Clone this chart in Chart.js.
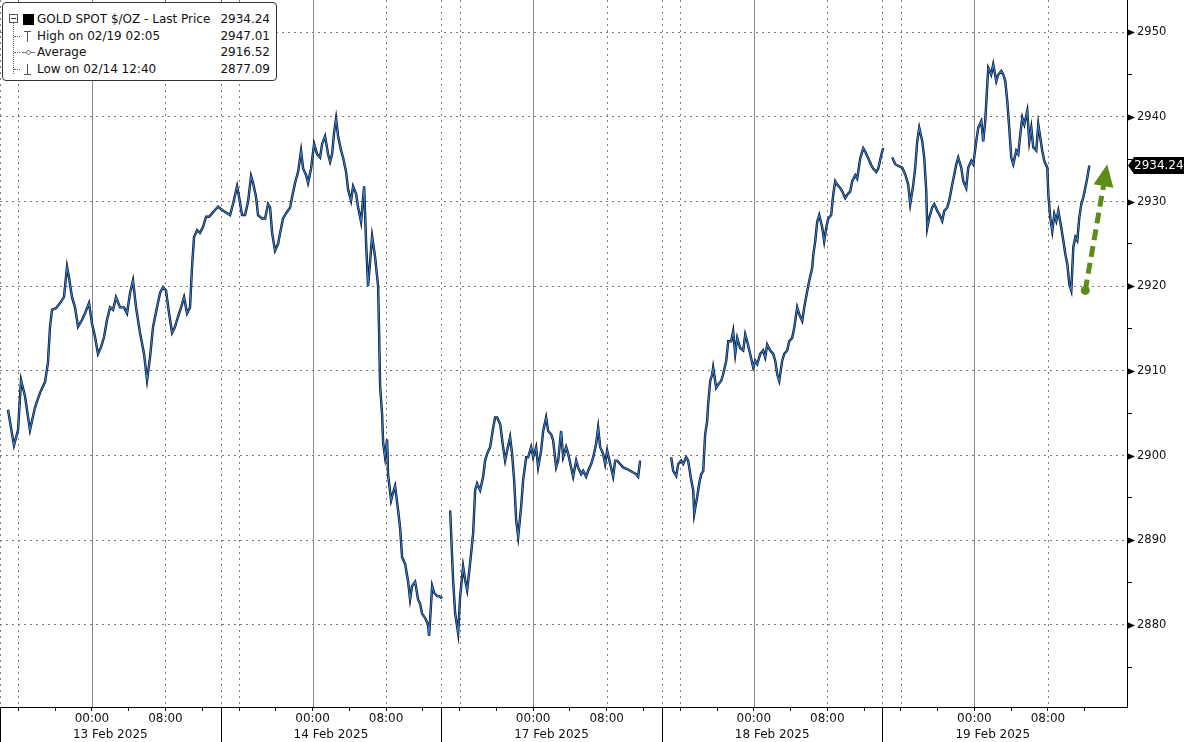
<!DOCTYPE html>
<html>
<head>
<meta charset="utf-8">
<script src="https://cdn.jsdelivr.net/npm/chart.js@4.4.1/dist/chart.umd.min.js"></script>
<style>
  html, body { margin: 0; padding: 0; background: #fff; }
  #wrap { position: relative; width: 1184px; height: 742px; }
  #legend {
    position: absolute; left: 2px; top: 2px; width: 273px; height: 77px;
    border: 1px solid #333; border-radius: 4px; background: #fff;
    font-family: 'DejaVu Sans'; font-size: 12px; color: #111;
  }
  #legend .row { position: absolute; left: 0; right: 0; height: 16px; line-height: 16px; }
  #legend .lbl { position: absolute; left: 34px; }
  #legend .val { position: absolute; right: 6px; }
  #legend .tree { position: absolute; left: 10px; top: 19px; height: 52px; border-left: 1px dotted #666; }
  #legend .minus { position: absolute; left: 6px; top: 11px; width: 7px; height: 7px; border: 1px solid #555; background: #fff; }
  #legend .minus::after { content: ''; position: absolute; left: 1px; right: 1px; top: 3px; height: 1px; background: #333; }
  #legend .hook { position: absolute; left: 11px; width: 6px; border-top: 1px dotted #666; top: 8px; }
  #legend .ico { position: absolute; }
</style>
</head>
<body>
<div id="wrap">
  <canvas id="c" width="1184" height="742"></canvas>
  <div id="legend"></div>
</div>
<script>
// gold spot, intraday, x = hours on the compressed session axis (each day block = 24h, starts 14:00 prior day)
const dayLabels = ['13 Feb 2025', '14 Feb 2025', '17 Feb 2025', '18 Feb 2025', '19 Feb 2025'];

const hours = [
  // 13 Feb block
  0.87, 1.52, 1.96, 2.29, 2.72, 3.26, 3.81, 4.35, 4.90, 5.22, 5.44, 5.66, 6.09, 6.53, 6.96, 7.29, 7.51, 7.83,
  8.16, 8.49, 8.92, 9.25, 9.68, 10.01, 10.34, 10.66, 10.99, 11.32, 11.64, 11.97, 12.30, 12.62, 13.06, 13.49,
  13.82, 14.15, 14.47, 14.80, 15.23, 15.67, 16.00, 16.32, 16.65, 17.08, 17.41, 17.74, 18.06, 18.39, 18.72,
  19.04, 19.37, 19.70, 20.02, 20.35, 20.67, 20.89, 21.11, 21.44, 21.76, 22.09, 22.42, 22.74, 23.07, 23.39, 23.72,
  // 14 Feb block
  24.16, 25.03, 25.35, 25.79, 26.01, 26.33, 26.66, 26.99, 27.31, 27.53, 27.86, 28.07, 28.51, 28.84, 29.16,
  29.38, 29.60, 29.92, 30.25, 30.47, 30.79, 31.23, 31.56, 31.77, 32.10, 32.43, 32.75, 32.97, 33.30, 33.51,
  33.84, 34.17, 34.49, 34.82, 35.04, 35.36, 35.69, 35.91, 36.13, 36.34, 36.56, 36.78, 37.11, 37.32, 37.65,
  37.87, 38.19, 38.41, 38.74, 38.96, 39.28, 39.61, 39.83, 40.04, 40.26, 40.48, 40.81, 41.13, 41.24, 41.35,
  41.57, 41.68, 41.89, 42.11, 42.22, 42.55, 42.76, 42.98, 43.31, 43.53, 43.74, 44.07, 44.40, 44.61, 44.83,
  45.16, 45.48, 45.70, 45.92, 46.25, 46.57, 46.68, 47.01, 47.23, 47.55, 47.77, 47.99,
  // 17 Feb block
  48.10, 48.5, 48.97, 49.29, 49.51, 49.84, 50.05, 50.38, 50.60, 50.82, 51.14, 51.47, 51.69, 51.90, 52.23,
  52.56, 52.77, 52.99, 53.32, 53.65, 53.86, 54.08, 54.41, 54.73, 54.95, 55.17, 55.49, 55.71, 55.93, 56.15,
  56.37, 56.69, 56.91, 57.24, 57.45, 57.78, 58.00, 58.32, 58.54, 58.87, 59.09, 59.41, 59.63, 59.96, 60.17,
  60.50, 60.72, 61.04, 61.26, 61.59, 61.81, 62.13, 62.35, 62.68, 62.89, 63.22, 63.44, 63.76, 63.98, 64.31,
  64.53, 64.85, 65.07, 65.29, 65.61, 65.83, 66.05, 66.38, 66.70, 66.92, 67.14, 67.46, 67.79, 68.23, 68.55,
  68.88, 69.21, 69.42, 69.64, 71.0,
  // 18 Feb block
  73.01, 73.23, 73.56, 73.78, 74.10, 74.32, 74.65, 74.86, 75.19, 75.41, 75.52, 75.84, 76.06, 76.28, 76.50,
  76.71, 76.93, 77.04, 77.26, 77.48, 77.58, 77.91, 78.13, 78.45, 78.67, 79.00, 79.22, 79.54, 79.76, 79.98,
  80.20, 80.52, 80.85, 81.07, 81.28, 81.61, 81.94, 82.15, 82.37, 82.70, 83.02, 83.24, 83.46, 83.79, 84.11,
  84.33, 84.55, 84.77, 85.09, 85.31, 85.64, 85.85, 86.18, 86.40, 86.72, 86.94, 87.27, 87.49, 87.81, 88.03,
  88.36, 88.47, 88.68, 88.90, 89.12, 89.45, 89.66, 89.88, 90.10, 90.42, 90.64, 90.86, 91.08, 91.40, 91.62,
  91.95, 92.17, 92.49, 92.71, 93.04, 93.25, 93.58, 93.91, 94.12, 94.45, 94.78, 94.99, 95.32, 95.54, 95.87,
  96.08, 96.5,
  // 19 Feb block
  97.06, 97.39, 97.72, 98.15, 98.48, 98.80, 99.02, 99.35, 99.56, 99.78, 100.00, 100.33, 100.54, 100.76,
  100.87, 101.09, 101.41, 101.63, 101.96, 102.18, 102.50, 102.72, 103.05, 103.26, 103.59, 103.81, 104.03,
  104.24, 104.57, 104.79, 105.11, 105.33, 105.66, 105.88, 106.20, 106.42, 106.75, 106.96, 107.18, 107.40,
  107.51, 107.83, 108.05, 108.38, 108.60, 108.92, 109.14, 109.36, 109.58, 109.79, 110.01, 110.23, 110.55,
  110.77, 110.99, 111.21, 111.43, 111.75, 111.97, 112.19, 112.40, 112.73, 112.95, 113.17, 113.38, 113.60,
  113.93, 114.04, 114.25, 114.47, 114.69, 114.91, 115.13, 115.45, 115.67, 115.89, 116.11, 116.32, 116.54,
  116.76, 116.98, 117.19, 117.41, 117.63, 117.85, 118.06, 118.28, 118.50
];

const prices = [
  // 13 Feb block
  2905.4, 2901.2, 2903, 2908.9, 2907, 2903, 2905.7, 2907.4, 2908.7, 2911, 2915.2, 2917.2, 2917.4, 2918, 2918.7, 2922.3, 2921, 2918.7,
  2917.5, 2915.2, 2916, 2916.8, 2918, 2915.6, 2914, 2912, 2912.8, 2914, 2916, 2917.5, 2917.2, 2918.7, 2917.5, 2917.5,
  2916.8, 2919.2, 2920.7, 2917.5, 2914.5, 2912, 2908.9, 2911.6, 2915.2, 2917.5, 2919.2, 2919.9, 2919.5, 2916.8, 2914.5,
  2915.2, 2916.4, 2917.5, 2918.7, 2916.8, 2917.5, 2922.3, 2925.8, 2926.6, 2926.3, 2927, 2928.2, 2928.2, 2928.6, 2929, 2929.4,
  // 14 Feb block
  2929, 2928.4, 2929.7, 2931.8, 2930.5, 2928.4, 2928.4, 2930, 2933, 2932.2, 2930.5, 2928.4, 2928, 2928, 2929.7,
  2929.3, 2926.3, 2924.2, 2925, 2926.3, 2928, 2928.8, 2929.3, 2930.5, 2932.2, 2933.5, 2936, 2933.9, 2933.1, 2932.2,
  2933.9, 2936.8, 2935.6, 2935.2, 2936.8, 2937.7, 2935.6, 2934.7, 2935.6, 2938.1, 2939.8, 2937.7, 2936, 2935.2, 2933.5,
  2931.4, 2930.1, 2931.8, 2930.9, 2929.3, 2927.6, 2931.8, 2925, 2920, 2922.9, 2925.9, 2923.4, 2920, 2914.5, 2908.2,
  2904.8, 2901.5, 2899.8, 2901.9, 2897.7, 2894.7, 2895.6, 2896.4, 2893.5, 2891.4, 2888, 2887.2, 2885.1, 2883, 2884.6,
  2885.1, 2883, 2882.5, 2881.3, 2880.8, 2880, 2878.7, 2884.6, 2883.8, 2883.4, 2883.4, 2883.2,
  // 17 Feb block
  2883.3, null, 2893.5, 2885.3, 2881.4, 2879, 2883.3, 2886.9, 2885.3, 2884.1, 2887.3, 2890.8, 2895.9, 2896.7, 2895.9,
  2897.5, 2899.4, 2900.2, 2901, 2903.3, 2904.5, 2904.5, 2903.7, 2901, 2899.4, 2900.6, 2902.2, 2900.2, 2897.1, 2892.4,
  2890.4, 2893.9, 2897.1, 2899.8, 2899.8, 2901, 2899.8, 2901, 2898.6, 2900.6, 2902.9, 2904.5, 2902.9, 2902.5, 2901.8,
  2898.6, 2899.4, 2902.9, 2899.8, 2901, 2900.2, 2898.6, 2897.5, 2899.4, 2898.6, 2897.8, 2898.2, 2897.5, 2898.2, 2899,
  2899.8, 2901.4, 2903.3, 2901, 2900.2, 2899, 2900.6, 2899, 2897.5, 2899.4, 2899.4, 2899, 2898.6, 2898.4, 2898.2,
  2898, 2897.8, 2897.5, 2899.4, null,
  // 18 Feb block
  2899.8, 2898.2, 2897.6, 2899, 2899.4, 2899, 2899.8, 2899.4, 2897.1, 2895.9, 2893.1, 2895.1, 2896.7, 2897.8, 2898.2,
  2902.5, 2904.1, 2906.1, 2908.8, 2909.6, 2910.4, 2908, 2908.4, 2908.8, 2909.6, 2911.2, 2913.5, 2913.5, 2914.7, 2912,
  2913.9, 2912.7, 2912.4, 2914.3, 2913.5, 2912, 2910.4, 2911.2, 2910.8, 2912, 2912.4, 2911.6, 2913.1, 2912.4, 2912,
  2911.2, 2909.6, 2908.8, 2911.2, 2912, 2912.4, 2913.5, 2913.9, 2915.1, 2917.5, 2916.7, 2915.9, 2917.5, 2919.4, 2920.6,
  2922.2, 2923.7, 2925.3, 2927.6, 2928.4, 2926.9, 2925.3, 2926.9, 2928, 2928.4, 2930.8, 2932.4, 2932, 2931.6, 2931.2,
  2930.4, 2930.8, 2931.2, 2932.4, 2933.1, 2932.7, 2935.1, 2936.3, 2935.9, 2935.1, 2934.3, 2933.9, 2933.5, 2933.9, 2935.5,
  2936.3, null,
  // 19 Feb block
  2935.2, 2934.4, 2934.2, 2934, 2933.2, 2932, 2929.7, 2932, 2934, 2937.1, 2938.7, 2937.1, 2935.2, 2931.3,
  2926.9, 2928.1, 2929.3, 2929.7, 2928.9, 2928.5, 2927.7, 2928.9, 2929.3, 2930.1, 2932, 2933.2, 2934.4,
  2935.2, 2934, 2932.4, 2931.6, 2934, 2934.8, 2934.4, 2937.1, 2938.7, 2939.5, 2937.1, 2939.5, 2943.8,
  2945.8, 2945, 2946.2, 2944.2, 2945, 2945.4, 2945, 2944.2, 2941.8, 2938.7, 2935.2, 2934.4, 2936,
  2935.6, 2937.9, 2939.9, 2939.1, 2940.7, 2937.1, 2938.7, 2936.4, 2936, 2939.1, 2937.5, 2936, 2934.8,
  2934, 2930.9, 2928.1, 2926.5, 2928.5, 2927.7, 2928.9, 2926.9, 2925.4, 2923.8, 2922.6, 2920.3, 2919.5,
  2924.6, 2925.8, 2925.4, 2928.1, 2929.7, 2930.5, 2931.6, 2932.8, 2934.24
];

const yTicks = [2875, 2880, 2885, 2890, 2895, 2900, 2905, 2910, 2915, 2920, 2925, 2930, 2935, 2940, 2945, 2950];
const lastPrice = 2934.24;

// legend box rows
const legendRows = [
  ['GOLD SPOT $/OZ - Last Price', '2934.24'],
  ['High on 02/19 02:05', '2947.01'],
  ['Average', '2916.52'],
  ['Low on 02/14 12:40', '2877.09']
];

// green dashed arrow (hours, price)
const arrowFrom = [118.06, 2919.5];
const arrowTo = [120.45, 2934.4];

const X_MAX = 122.6;
const Y_MIN = 2870.3;
const Y_MAX = 2953.8;

// --- legend box (html) ---
const legend = document.getElementById('legend');
let html = '<div class="tree"></div><div class="minus"></div>';
legendRows.forEach((r, i) => {
  const top = 8 + i * 16.5;
  let ico = '';
  if (i === 0) ico = '<div class="ico" style="left:20px;top:3px;width:11px;height:11px;background:#000"></div>';
  if (i === 1) ico = '<div class="ico" style="left:21px;top:3px;width:7px;height:1px;background:#555"></div>' +
                     '<div class="ico" style="left:24px;top:3px;width:1px;height:11px;background:#555"></div>';
  if (i === 2) ico = '<div class="ico" style="left:19px;top:8px;width:13px;height:1px;background:#777"></div>' +
                     '<div class="ico" style="left:23px;top:6px;width:3px;height:3px;border:1px solid #777;border-radius:3px;background:#fff"></div>';
  if (i === 3) ico = '<div class="ico" style="left:24px;top:3px;width:1px;height:11px;background:#555"></div>' +
                     '<div class="ico" style="left:21px;top:13px;width:7px;height:1px;background:#555"></div>';
  const hook = i > 0 ? '<div class="hook"></div>' : '';
  html += `<div class="row" style="top:${top}px">${hook}${ico}<span class="lbl">${r[0]}</span><span class="val">${r[1]}</span></div>`;
});
legend.innerHTML = html;

// --- chart ---
Chart.defaults.font.family = 'DejaVu Sans';
Chart.defaults.font.size = 12;
Chart.defaults.color = '#111';

const points = hours.map((h, i) => ({ x: h, y: prices[i] }));

function dayOffset(v) {
  const d = Math.floor((v + 0.001) / 24);
  return { d: d, off: Math.round((v - d * 24) * 100) / 100 };
}

const xDecor = {
  id: 'xDecor',
  beforeDatasetsDraw(chart) {
    const { ctx, chartArea: a, scales: { x } } = chart;
    ctx.save();
    ctx.lineWidth = 1;
    for (let d = 0; d < dayLabels.length; d++) {
      [0, 2, 18].forEach(off => {
        const px = Math.round(x.getPixelForValue(d * 24 + off)) + 0.5;
        ctx.strokeStyle = '#7d7d7d';
        ctx.setLineDash([2, 4]);
        ctx.beginPath(); ctx.moveTo(px, a.top); ctx.lineTo(px, a.bottom); ctx.stroke();
      });
      const px0 = Math.round(x.getPixelForValue(d * 24 + 10)) + 0.5;
      ctx.setLineDash([]);
      ctx.strokeStyle = '#8a8a8a';
      ctx.beginPath(); ctx.moveTo(px0, a.top); ctx.lineTo(px0, a.bottom); ctx.stroke();
    }
    ctx.restore();
  },
  afterDraw(chart) {
    const { ctx, chartArea: a, scales: { x, y } } = chart;
    ctx.save();
    // day block separators under the axis
    ctx.strokeStyle = '#000';
    ctx.lineWidth = 1;
    for (let d = 0; d < dayLabels.length; d++) {
      const px = Math.round(x.getPixelForValue(d * 24)) + 0.5;
      ctx.beginPath(); ctx.moveTo(px, a.bottom); ctx.lineTo(px, chart.height); ctx.stroke();
    }
    // major tick pointers on the price axis
    ctx.fillStyle = '#000';
    yTicks.filter(v => v % 10 === 0).forEach(v => {
      const py = Math.round(y.getPixelForValue(v)) + 0.5;
      ctx.beginPath();
      ctx.moveTo(a.right, py - 3.5); ctx.lineTo(a.right + 8, py); ctx.lineTo(a.right, py + 3.5);
      ctx.closePath(); ctx.fill();
    });
    // last price tag
    const ly = y.getPixelForValue(lastPrice);
    ctx.beginPath();
    ctx.moveTo(a.right + 1, ly);
    ctx.lineTo(a.right + 7, ly - 8.5);
    ctx.lineTo(chart.width, ly - 8.5);
    ctx.lineTo(chart.width, ly + 8.5);
    ctx.lineTo(a.right + 7, ly + 8.5);
    ctx.closePath();
    ctx.fill();
    ctx.fillStyle = '#fff';
    ctx.font = '12px "DejaVu Sans"';
    ctx.textBaseline = 'middle';
    ctx.fillText(lastPrice.toFixed(2), a.right + 7, ly + 0.5);
    ctx.restore();
  }
};

const arrowPlugin = {
  id: 'arrow',
  afterDatasetsDraw(chart) {
    const { ctx, scales: { x, y } } = chart;
    const x0 = x.getPixelForValue(arrowFrom[0]), y0 = y.getPixelForValue(arrowFrom[1]);
    const x1 = x.getPixelForValue(arrowTo[0]), y1 = y.getPixelForValue(arrowTo[1]);
    const ang = Math.atan2(y1 - y0, x1 - x0);
    const headLen = 22, headW = 10;
    const bx = x1 - headLen * Math.cos(ang), by = y1 - headLen * Math.sin(ang);
    ctx.save();
    ctx.strokeStyle = '#5e8c1b';
    ctx.fillStyle = '#5e8c1b';
    ctx.lineWidth = 5;
    ctx.setLineDash([11, 6]);
    ctx.beginPath(); ctx.moveTo(x0, y0); ctx.lineTo(bx, by); ctx.stroke();
    ctx.setLineDash([]);
    ctx.beginPath(); ctx.arc(x0, y0, 4.5, 0, Math.PI * 2); ctx.fill();
    ctx.beginPath();
    ctx.moveTo(x1, y1);
    ctx.lineTo(bx + headW * Math.sin(ang), by - headW * Math.cos(ang));
    ctx.lineTo(bx - headW * Math.sin(ang), by + headW * Math.cos(ang));
    ctx.closePath(); ctx.fill();
    ctx.restore();
  }
};

new Chart(document.getElementById('c'), {
  type: 'line',
  data: {
    datasets: [
      {
        label: 'GOLD SPOT',
        data: points,
        borderColor: '#2f7fd8',
        borderWidth: 1.1,
        pointRadius: 0,
        tension: 0,
        spanGaps: false,
        order: 0
      },
      {
        label: 'GOLD SPOT bars',
        data: points,
        borderColor: '#0c0c14',
        borderWidth: 2.4,
        pointRadius: 0,
        tension: 0,
        spanGaps: false,
        order: 1
      }
    ]
  },
  options: {
    responsive: false,
    animation: false,
    layout: { padding: 0 },
    plugins: { legend: { display: false }, tooltip: { enabled: false } },
    scales: {
      x: {
        type: 'linear',
        min: 0,
        max: X_MAX,
        afterBuildTicks(scale) {
          const t = [];
          for (let d = 0; d < dayLabels.length; d++) {
            [0, 2, 6, 10, 12, 14, 18, 22].forEach(off => t.push({ value: d * 24 + off }));
          }
          scale.ticks = t;
        },
        afterFit(scale) {
          scale.height = 35;
          scale.paddingLeft = 0;
          scale.paddingRight = 0;
        },
        border: { display: true, color: '#000', width: 1 },
        grid: {
          drawOnChartArea: false,
          drawTicks: true,
          tickLength: 4,
          tickColor: ctx => {
            const o = dayOffset(ctx.tick.value).off;
            return (o === 12 || o === 0) ? 'rgba(0,0,0,0)' : '#000';
          }
        },
        ticks: {
          autoSkip: false,
          maxRotation: 0,
          padding: 0,
          color: '#111',
          font: { size: 12, lineHeight: 1.35 },
          callback: function (value) {
            const o = dayOffset(value);
            if (o.off === 10) return '00:00';
            if (o.off === 18) return '08:00';
            if (o.off === 12) return ['', dayLabels[o.d]];
            return '';
          }
        }
      },
      y: {
        position: 'right',
        min: Y_MIN,
        max: Y_MAX,
        afterBuildTicks(scale) {
          scale.ticks = yTicks.map(v => ({ value: v }));
        },
        afterFit(scale) {
          scale.width = 57;
          scale.paddingTop = 0;
          scale.paddingBottom = 0;
        },
        border: { display: true, color: '#000', width: 1, dash: [2, 4] },
        grid: {
          color: ctx => (ctx.tick && ctx.tick.value % 10 === 0) ? '#7d7d7d' : 'rgba(0,0,0,0)',
          lineWidth: 1,
          drawTicks: true,
          tickLength: 5,
          tickBorderDash: [],
          tickColor: ctx => (ctx.tick && ctx.tick.value % 10 === 0) ? 'rgba(0,0,0,0)' : '#000'
        },
        ticks: {
          padding: 5,
          color: '#111',
          font: { size: 11.5 },
          callback: v => (v % 10 === 0 ? String(v) : '')
        }
      }
    }
  },
  plugins: [xDecor, arrowPlugin]
});
</script>
</body>
</html>
